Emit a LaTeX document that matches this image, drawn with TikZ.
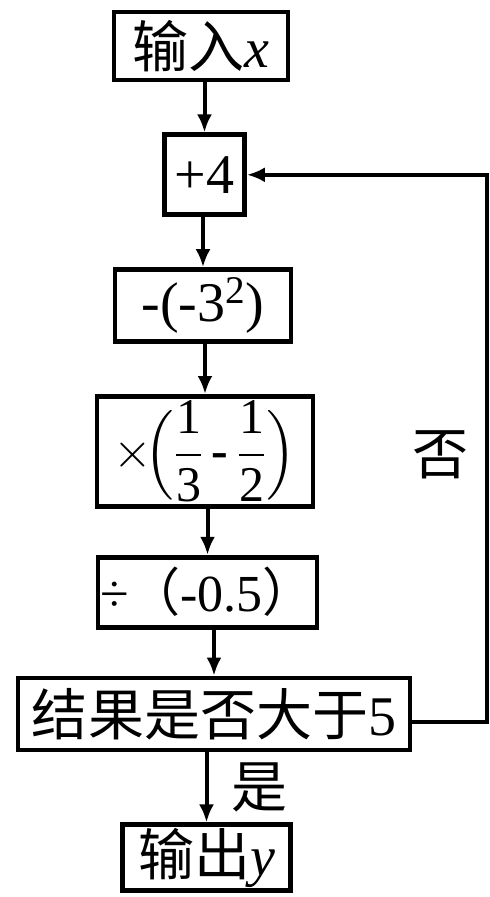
\documentclass[tikz,border=0pt]{standalone}
\usepackage{amsmath}
\usepackage{fontspec}
\setmainfont{Liberation Serif}
\newfontfamily\cjk{Noto Sans CJK SC}
\usetikzlibrary{arrows.meta, positioning}

\begin{document}
\begin{tikzpicture}[
    x=0.5pt, y=0.5pt,
    box/.style = {rectangle, draw, line width=2.4pt, inner sep=1pt,
                  font=\fontsize{28}{32}\selectfont},
    arrow/.style = {-{Latex[length=9pt,width=7.5pt]}, line width=2pt},
    tag/.style = {font=\cjk\fontsize{28}{32}\selectfont}
  ]
  \useasboundingbox (0,0) rectangle (489,-897);
  \node[box, minimum width=87pt, minimum height=34pt] (in) at (201,-46) {{\cjk 输入}\textit{x}};
  \node[box, minimum width=40pt, minimum height=40pt, below=25pt of in, xshift=1.75pt] (add) {+4};
  \node[box, minimum width=88pt, minimum height=36pt, below=25pt of add, xshift=-0.75pt] (sub) {-(-3\textsuperscript{2})};
  \node[box, minimum width=108pt, minimum height=55pt, inner sep=0pt, below=25pt of sub, xshift=1pt,
        font=\fontsize{25}{28}\selectfont] (mul)
    {$\times\!\Bigl(\dfrac{\text{1}}{\text{3}}\,\textbf{-}\,\dfrac{\text{1}}{\text{2}}\Bigr)$};
  \node[box, minimum width=108pt, minimum height=35pt, below=23pt of mul, xshift=1.25pt,
        font=\fontsize{26}{30}\selectfont] (div) {÷{\cjk （}-0.5{\cjk ）}};
  \node[box, minimum width=196pt, minimum height=36pt, below=23pt of div, xshift=3.25pt] (test) {{\cjk 结果是否大于}5};
  \node[box, minimum width=84pt, minimum height=33pt, below=35pt of test, xshift=-3.75pt] (out) {{\cjk 输出}\textit{y}};
  \coordinate (loop) at (487,-455);

  \draw[arrow] (in.south -| add)  -- (add.north);
  \draw[arrow] (add.south -| sub) -- (sub.north);
  \draw[arrow] (sub.south -| mul) -- (mul.north);
  \draw[arrow] (mul.south -| div) -- (div.north);
  \draw[arrow] (div.south -| test) -- (test.north);
  \draw[arrow] (test.south -| out) -- node[right=8pt, tag] (yes) {是} (out.north);
  \draw[arrow] ([yshift=-4pt]test.east) -| (loop) node[left=5pt, tag] (no) {否} |- (add.east);
\end{tikzpicture}
\end{document}
